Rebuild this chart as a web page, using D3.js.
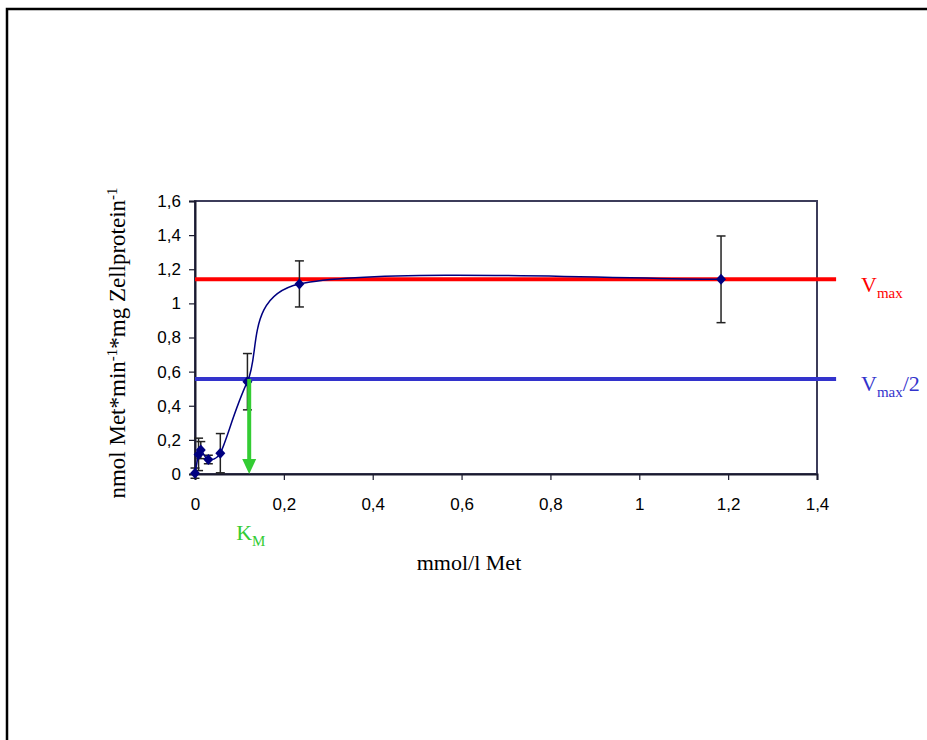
<!DOCTYPE html>
<html>
<head>
<meta charset="utf-8">
<script src="https://cdn.jsdelivr.net/npm/d3@7"></script>
<style>
  body { margin: 0; background: #fff; }
  svg { display: block; }
</style>
</head>
<body>
<script>
// substrate concentration (mmol/l Met) and uptake rate
var concentrations = [0, 0.008, 0.013, 0.03, 0.057, 0.118, 0.235, 1.184];
var rates          = [0.005, 0.115, 0.14, 0.085, 0.122, 0.541, 1.114, 1.141];
var rateErrors     = [0.03, 0.095, 0.05, 0.025, 0.115, 0.165, 0.135, 0.254];

var xTicks = [0, 0.2, 0.4, 0.6, 0.8, 1, 1.2, 1.4];
var yTicks = [0, 0.2, 0.4, 0.6, 0.8, 1, 1.2, 1.4, 1.6];

var vmax = 1.141;
var halfVmax = 0.557;
var km = 0.122;
var refLineEnd = 1.443; // reference lines run a bit past the plot

var width = 927, height = 740;
var margin = {top: 201, right: 110, bottom: 266, left: 195};

var fmt = d3.formatLocale({decimal: ",", thousands: ".", grouping: [3], currency: ["", "€"]}).format("~g");

// spreadsheet-style smoothing: bezier with 1/6 tangents, clipped to half the segment
function SmoothCurve(context) { this._context = context; }
SmoothCurve.prototype = {
  areaStart: function() {},
  areaEnd: function() {},
  lineStart: function() { this._pts = []; },
  point: function(px, py) { this._pts.push([+px, +py]); },
  lineEnd: function() {
    var p = this._pts, n = p.length, c = this._context;
    if (!n) return;
    c.moveTo(p[0][0], p[0][1]);
    function clip(t, len) {
      var l = Math.hypot(t[0], t[1]);
      if (l > len / 2) { t[0] *= len / 2 / l; t[1] *= len / 2 / l; }
      return t;
    }
    for (var i = 0; i < n - 1; i++) {
      var p0 = p[i > 0 ? i - 1 : i], p1 = p[i], p2 = p[i + 1], p3 = p[i + 2 < n ? i + 2 : i + 1];
      var seg = Math.hypot(p2[0] - p1[0], p2[1] - p1[1]);
      var t1 = clip([(p2[0] - p0[0]) / 6, (p2[1] - p0[1]) / 6], seg);
      var t2 = clip([(p3[0] - p1[0]) / 6, (p3[1] - p1[1]) / 6], seg);
      c.bezierCurveTo(p1[0] + t1[0], p1[1] + t1[1], p2[0] - t2[0], p2[1] - t2[1], p2[0], p2[1]);
    }
  }
};
function curveSmooth(context) { return new SmoothCurve(context); }

var svg = d3.select("body").append("svg")
    .attr("width", width)
    .attr("height", height);

// outer frame (only top and left edges show)
svg.append("path")
    .attr("d", "M7,745V9H935")
    .attr("fill", "none")
    .attr("stroke", "#000")
    .attr("stroke-width", 2.5);

var x = d3.scaleLinear().domain([0, 1.4]).range([margin.left, width - margin.right]);
var y = d3.scaleLinear().domain([0, 1.6]).range([height - margin.bottom, margin.top]);

// plot border
svg.append("rect")
    .attr("x", x(0)).attr("y", y(1.6))
    .attr("width", x(1.4) - x(0)).attr("height", y(0) - y(1.6))
    .attr("fill", "none")
    .attr("stroke", "#3c3c5a")
    .attr("stroke-width", 2);

var xAxis = svg.append("g")
    .attr("transform", "translate(0," + y(0) + ")")
    .call(d3.axisBottom(x).tickValues(xTicks).tickFormat(fmt).tickSize(6).tickPadding(18));
var yAxis = svg.append("g")
    .attr("transform", "translate(" + x(0) + ",0)")
    .call(d3.axisLeft(y).tickValues(yTicks).tickFormat(fmt).tickSize(6).tickPadding(8));

[xAxis, yAxis].forEach(function(a) {
  a.select(".domain").attr("stroke", "#1a1a2e").attr("stroke-width", 2);
  a.selectAll(".tick line").attr("stroke", "#1a1a2e").attr("stroke-width", 1.2);
  a.selectAll("text")
      .attr("fill", "#000")
      .style("font-family", "'Liberation Sans', Arial, sans-serif")
      .style("font-size", "17px");
});

// Vmax and Vmax/2 lines
svg.append("line")
    .attr("x1", x(0)).attr("x2", x(refLineEnd))
    .attr("y1", y(vmax)).attr("y2", y(vmax))
    .attr("stroke", "#ff0000").attr("stroke-width", 4);
svg.append("line")
    .attr("x1", x(0)).attr("x2", x(refLineEnd))
    .attr("y1", y(halfVmax)).attr("y2", y(halfVmax))
    .attr("stroke", "#3333cc").attr("stroke-width", 4);

var points = concentrations.map(function(c, i) {
  return {x: c, y: rates[i], err: rateErrors[i]};
});

// error bars
var eb = svg.append("g").attr("stroke", "#222").attr("stroke-width", 1.5);
points.forEach(function(d) {
  eb.append("line")
      .attr("x1", x(d.x)).attr("x2", x(d.x))
      .attr("y1", y(d.y - d.err)).attr("y2", y(d.y + d.err));
  [d.y - d.err, d.y + d.err].forEach(function(v) {
    eb.append("line")
        .attr("x1", x(d.x) - 4.5).attr("x2", x(d.x) + 4.5)
        .attr("y1", y(v)).attr("y2", y(v));
  });
});

// smoothed line
var line = d3.line()
    .x(function(d) { return x(d.x); })
    .y(function(d) { return y(d.y); })
    .curve(curveSmooth);
svg.append("path")
    .datum(points)
    .attr("d", line)
    .attr("fill", "none")
    .attr("stroke", "#000080")
    .attr("stroke-width", 1.5);

// diamond markers
svg.selectAll(".marker")
    .data(points)
    .enter()
    .append("path")
    .attr("class", "marker")
    .attr("d", "M0,-5.5L5,0L0,5.5L-5,0Z")
    .attr("transform", function(d) { return "translate(" + x(d.x) + "," + y(d.y) + ")"; })
    .attr("fill", "#000080");

// Km arrow
var green = "#33cc33";
svg.append("line")
    .attr("x1", x(km)).attr("x2", x(km))
    .attr("y1", y(halfVmax)).attr("y2", y(0) - 12)
    .attr("stroke", green).attr("stroke-width", 4);
svg.append("path")
    .attr("d", "M" + (x(km) - 7) + "," + (y(0) - 15) + "L" + (x(km) + 7) + "," + (y(0) - 15) + "L" + x(km) + "," + y(0) + "Z")
    .attr("fill", green);

var serif = "'Liberation Serif', 'Times New Roman', serif";

function subLabel(tx, ty, main, sub, tail, color) {
  var t = svg.append("text")
      .attr("x", tx).attr("y", ty)
      .attr("fill", color)
      .style("font-family", serif)
      .style("font-size", "22px");
  t.append("tspan").text(main);
  t.append("tspan").attr("dy", 6).style("font-size", "15px").text(sub);
  if (tail) t.append("tspan").attr("dy", -6).text(tail);
}

subLabel(x(km) - 13, 540, "K", "M", null, green);
subLabel(861, 292, "V", "max", null, "#ff0000");
subLabel(861, 391, "V", "max", "/2", "#3333cc");

// axis titles
svg.append("text")
    .attr("x", 469).attr("y", 570)
    .attr("text-anchor", "middle")
    .style("font-family", serif)
    .style("font-size", "22px")
    .text("mmol/l Met");

var yt = svg.append("text")
    .attr("transform", "translate(125,343) rotate(-90)")
    .attr("text-anchor", "middle")
    .style("font-family", serif)
    .style("font-size", "23px");
yt.append("tspan").text("nmol Met*min");
yt.append("tspan").attr("dy", -8).style("font-size", "15px").text("-1");
yt.append("tspan").attr("dy", 8).text("*mg Zellprotein");
yt.append("tspan").attr("dy", -8).style("font-size", "15px").text("-1");
</script>
</body>
</html>
